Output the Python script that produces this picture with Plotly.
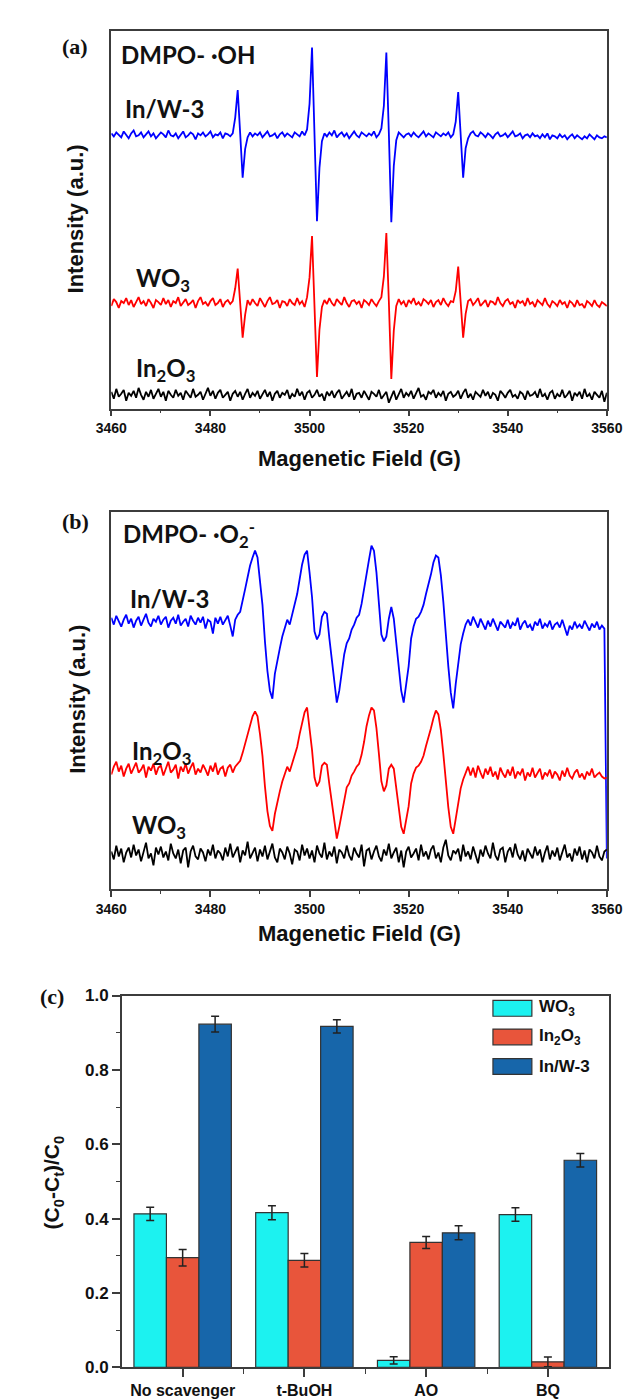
import numpy as np
import plotly.graph_objects as go

W, H = 631, 1399

# ---------------- data ----------------
FIELD_START, FIELD_STOP, FIELD_STEP = 3460.0, 3560.0, 0.5
field = np.arange(FIELD_START, FIELD_STOP + FIELD_STEP / 2, FIELD_STEP)

# (a) DMPO-·OH spectra (intensity deviations, a.u.), sampled every 0.5 G
oh_inw3 = [2, -1, 3, 0, -2, 4, 1, -3, 2, 5,
           -1, 0, 3, -2, 1, 4, -1, 2, -3, 0,
           3, 1, -2, 5, 0, -1, 2, -3, 1, 4,
           -2, 0, 3, 1, -4, 2, 0, 3, -1, 1,
           4, -2, 1, 0, 3, -3, 2, 1, -1, 2,
           18, 46, 2, -43, -14, -2, 3, -1, 2, 0,
           3, -2, 1, 4, -1, 0, 2, -3, 1, 3,
           -1, 2, 0, -2, 3, 1, -1, 4, 0, 6,
           32, 89, 4, -87, -33, -6, 2, -1, 3, 0,
           5, -2, 1, 3, -1, 2, -3, 1, 4, 0,
           -2, 3, 1, -1, 2, 0, 4, -2, 1, 7,
           30, 84, 3, -88, -31, -5, 3, 0, -2, 1,
           2, -1, 3, 0, -2, 1, 4, -1, 2, 0,
           -2, 3, 1, -1, 2, 0, 3, -2, 1, 14,
           44, 3, -43, -13, -3, 2, 4, 0, -1, 3,
           1, -2, 2, 0, -3, 1, 3, -1, 0, 2,
           -2, 1, 4, -1, 0, 2, -3, 0, 1, -2,
           2, -1, 0, -3, 1, -2, 2, -4, 0, -1,
           -3, 1, -2, 0, -4, -1, 1, -3, 0, -2,
           -4, -1, -3, 1, -2, -4, 0, -2, -3, -1,
           -2]
oh_wo3 = [-3, 4, 1, -5, 2, 0, 5, -2, 3, -4,
          1, 6, -1, 2, -3, 4, 0, -5, 3, 1,
          -2, 5, -1, 3, -4, 2, 0, 6, -3, 1,
          4, -2, 0, 3, -5, 2, 6, -1, 1, -3,
          2, 5, -2, 0, 4, -4, 1, 3, -1, 2,
          15, 35, 1, -35, -12, 3, -2, 4, 0, -3,
          5, 1, -4, 2, 6, -1, 0, 3, -5, 2,
          1, -3, 4, 0, -2, 5, -1, 2, -4, 6,
          26, 68, 2, -75, -27, -4, 3, -1, 5, 0,
          -3, 4, 1, -2, 6, 0, -4, 2, 3, -1,
          2, -5, 3, 1, -2, 4, 0, -3, 2, 6,
          27, 71, 2, -77, -28, -3, 4, -1, 2, -4,
          3, 0, 5, -2, 1, -3, 4, 2, -1, 3,
          -4, 1, 3, -2, 5, 0, -3, 2, 1, 12,
          37, 2, -35, -11, 2, 4, -2, 1, 5, -3,
          0, 3, -4, 2, 1, -2, 6, 0, -3, 2,
          4, -1, 1, -5, 3, 0, 2, -3, 5, -1,
          1, -4, 3, 0, -2, 5, -1, -4, 2, 0,
          -3, 3, -1, 1, -5, 2, 0, -4, 3, -2,
          -1, -5, 2, 0, -3, 3, -2, -4, 1, -1,
          -3]
oh_in2o3 = [3, -4, 6, -2, 1, 5, -6, 2, -1, 4,
            -3, 7, 0, -5, 3, -2, 5, -4, 1, 6,
            -2, 3, -6, 4, 0, -3, 5, -1, 2, -5,
            4, 1, -3, 6, -2, 0, 3, -5, 2, 7,
            -1, 4, -4, 2, 5, -3, 0, 3, -6, 1,
            4, -2, 3, -5, 1, 6, -3, 2, -1, 4,
            -4, 0, 5, -2, 3, -6, 1, 4, -3, 2,
            0, 5, -4, 1, -2, 6, -1, 3, -5, 2,
            4, -3, 0, 5, -2, 1, -6, 3, -1, 4,
            -3, 2, 5, -4, 0, 3, -2, 6, -5, 1,
            2, -3, 4, 0, -5, 3, 1, -2, 5, -4,
            0, 3, -8, -2, 4, -5, 1, 6, -3, 2,
            -1, 4, -4, 2, 7, -2, 0, -5, 3, 1,
            5, -3, 2, -1, 4, -6, 1, 3, -2, 0,
            4, -4, 2, 6, -3, 1, -5, 3, 0, -2,
            5, -1, 3, -4, 2, 0, -6, 4, 1, -3,
            2, 5, -2, 0, -4, 3, 1, -5, 4, -1,
            0, 3, -3, 6, -2, 1, -5, 2, 4, -4,
            1, -2, 5, -3, 0, 4, -6, 2, -1, 3,
            -4, 6, -2, 1, -5, 3, 0, -3, 4, -7,
            2]

# (b) DMPO-·O2- spectra
o2_inw3 = [4, -3, 6, 0, -5, 2, 7, -2, 3, -6,
           1, 5, -4, 2, 8, -1, -5, 3, 0, 6,
           -3, 2, 5, -6, 1, 4, -2, 7, -4, 0,
           3, -5, 6, 1, -3, 4, -1, 5, -7, 2,
           0, -12, 4, -2, 5, -3, 1, 6, -4, -15,
           2, 7, 10, 20, 33, 45, 57, 65, 72, 65,
           43, 17, -20, -50, -70, -78, -53, -38, -27, -15,
           -5, 2, -3, 8, 17, 28, 43, 58, 68, 72,
           50, 25, -10, -18, -13, 5, 10, 8, -17, -40,
           -57, -82, -70, -52, -33, -22, -17, -8, -3, 4,
           7, 18, 33, 52, 63, 77, 72, 50, 20, -13,
           -20, -15, 3, 15, 3, -20, -50, -70, -82, -63,
           -45, -17, -5, 3, 5, 10, 17, 28, 37, 48,
           60, 67, 65, 47, 20, -17, -45, -72, -88, -63,
           -45, -23, -12, -3, 2, -4, 5, -1, -6, 3,
           -2, -8, 1, -5, 3, -4, -9, 0, -3, -6,
           2, -7, -1, -4, 4, -8, -2, 1, -6, -3,
           -9, 0, -4, 3, -7, -2, -5, 1, -8, -3,
           -1, -6, 2, -5, -14, -4, -8, 0, -6, -3,
           -7, 1, -5, -9, -2, -6, 0, -8, -4, -7,
           -240]
o2_in2o3 = [-5, 3, 8, -2, 4, -7, 1, 6, -4, 2,
            7, -3, 0, 5, -8, 3, -1, 6, -5, 2,
            4, -6, 1, 8, -3, 0, 5, -9, 3, -2,
            6, -4, 2, 7, -5, 1, -3, 5, 0, -6,
            4, -2, 7, -5, 1, 3, -7, 2, 5, -3,
            3, 6, 9, 17, 27, 37, 47, 54, 59, 54,
            36, 14, -17, -42, -57, -62, -45, -32, -22, -12,
            -4, 3, -2, 7, 14, 23, 36, 49, 58, 63,
            44, 20, -8, -17, -12, 4, 7, 5, -15, -34,
            -48, -70, -58, -44, -28, -18, -14, -6, -2, 3,
            6, 15, 28, 44, 55, 63, 60, 42, 16, -12,
            -22, -16, 1, 5, 1, -18, -42, -58, -65, -52,
            -37, -14, -4, 2, 4, 8, 14, 24, 32, 42,
            52, 60, 56, 40, 16, -15, -38, -58, -65, -50,
            -36, -19, -10, -4, 3, -6, 2, -8, 4, -3,
            -9, 1, -5, 3, -7, -2, -10, 2, -4, -8,
            0, -6, 3, -9, -2, -5, 1, -11, -3, -7,
            2, -8, -4, 1, -10, -3, -6, 0, -9, -2,
            -5, -11, -1, -7, 2, -6, -9, -3, 0, -8,
            -4, -10, -2, -6, 1, -8, -5, -3, -7, -9,
            -8]
o2_wo3 = [2, -6, 8, -3, 5, -9, 1, 6, -4, 9,
          -2, 4, -8, 3, 11, -5, 0, -12, 6, -1,
          7, -4, 2, -7, 10, 0, -5, 4, -10, 3,
          6, -14, 2, 8, -3, -6, 5, 1, -8, 4,
          -2, 9, -5, 3, 0, -7, 6, -3, 10, -4,
          1, 7, -9, 3, -2, 12, -5, 0, 6, -8,
          4, -3, 8, -6, 2, 10, -4, -9, 5, 1,
          -6, 7, 0, -11, 4, 2, -7, 9, -2, 5,
          -5, 3, -9, 8, 0, -4, 11, -6, 2, -3,
          7, -10, 4, 1, -5, 8, -2, -7, 6, 0,
          -4, 9, -13, 3, 5, -6, 2, 8, -3, -8,
          4, -2, 10, -5, 1, 6, -9, 3, -14, 2,
          7, -4, 0, 5, -7, 9, -3, 2, -6, 4,
          8, -5, 1, -9, 6, 14, -2, -7, 3, 0,
          5, -8, 9, -3, 2, -6, 7, -1, -10, 4,
          -3, 8, 0, -5, 11, -2, -7, 4, 6, -9,
          2, 6, -4, 10, -1, -6, 3, -8, 5, 0,
          -5, 7, -2, 4, -9, 1, 8, -6, 3, -3,
          6, -7, 2, 9, -4, 0, -8, 5, -2, 7,
          -6, 3, -9, 4, 1, -5, 8, -3, -7, 2,
          4]

# vertical stacking offsets of the spectra (a.u.)
oh_offsets = [277, 107, 14]
o2_offsets = [271, 121, 36]

# (c) scavenger experiment
categories = ["No scavenger", "t-BuOH", "AO", "BQ"]
series_names = ["WO<sub>3</sub>", "In<sub>2</sub>O<sub>3</sub>", "In/W-3"]
wo3_vals = [0.413, 0.416, 0.019, 0.411]
wo3_err = [0.018, 0.019, 0.010, 0.018]
in2o3_vals = [0.295, 0.288, 0.336, 0.015]
in2o3_err = [0.022, 0.018, 0.016, 0.013]
inw3_vals = [0.923, 0.917, 0.362, 0.557]
inw3_err = [0.021, 0.018, 0.019, 0.018]

# ---------------- style ----------------
SANS = "Liberation Sans, Arial, sans-serif"
LABEL = "Lato, Liberation Sans, sans-serif"
SERIF = "Liberation Serif, Times New Roman, serif"
AXC = "#3c3c3c"
BLUE, RED, BLACK = "#0000FF", "#FF0000", "#000000"
C_WO3, C_IN2O3, C_INW3 = "#1CF2F0", "#E8553B", "#1766AA"
LW = 1.8


def px(x):
    return x / W


def py(y):
    return 1 - y / H


fig = go.Figure()

for vals, off, col in zip([oh_inw3, oh_wo3, oh_in2o3], oh_offsets, [BLUE, RED, BLACK]):
    fig.add_trace(go.Scatter(x=field, y=np.array(vals) + off, mode="lines",
                             line=dict(color=col, width=LW), xaxis="x", yaxis="y",
                             showlegend=False, hoverinfo="skip"))

for vals, off, col in zip([o2_inw3, o2_in2o3, o2_wo3], o2_offsets, [BLUE, RED, BLACK]):
    fig.add_trace(go.Scatter(x=field, y=np.array(vals) + off, mode="lines",
                             line=dict(color=col, width=LW), xaxis="x2", yaxis="y2",
                             showlegend=False, hoverinfo="skip"))

cat_pos = list(range(len(categories)))
bar_colors = [C_WO3, C_IN2O3, C_INW3]
for name, vals, err, col in zip(series_names, [wo3_vals, in2o3_vals, inw3_vals],
                                [wo3_err, in2o3_err, inw3_err], bar_colors):
    fig.add_trace(go.Bar(x=cat_pos, y=vals, name=name, xaxis="x3", yaxis="y3",
                         marker=dict(color=col, line=dict(color="#333333", width=1.2)),
                         error_y=dict(type="data", array=err, color="#222222",
                                      thickness=1.5, width=4),
                         showlegend=False))

common_x = dict(range=[3460, 3560], tick0=3460, dtick=20, ticks="outside", ticklen=6,
                tickwidth=1.5, tickcolor=AXC, showline=True, linecolor=AXC, linewidth=1.5,
                mirror=True, showgrid=False, zeroline=False,
                tickfont=dict(family=SANS, size=14, color="#111", weight="bold"),
                minor=dict(dtick=10, tick0=3460, ticks="outside", ticklen=3,
                           tickcolor=AXC, tickwidth=1.2, showgrid=False))
common_y = dict(showticklabels=False, ticks="", showline=True, linecolor=AXC, linewidth=1.5,
                mirror=True, showgrid=False, zeroline=False)

fig.update_layout(
    width=W, height=H, margin=dict(l=0, r=0, t=0, b=0),
    paper_bgcolor="white", plot_bgcolor="white",
    barmode="group", bargap=0.2, bargroupgap=0,
    xaxis=dict(domain=[px(92), px(614)], anchor="y", **common_x),
    yaxis=dict(domain=[py(397), py(14)], anchor="x", range=[0, 383], **common_y),
    xaxis2=dict(domain=[px(92), px(614)], anchor="y2", **common_x),
    yaxis2=dict(domain=[py(884), py(502)], anchor="x2", range=[0, 382], **common_y),
    xaxis3=dict(domain=[px(103), px(616)], anchor="y3", range=[-0.5, 3.5],
                tickmode="array", tickvals=cat_pos, ticktext=categories,
                ticks="outside", ticklen=8, tickwidth=1.5, tickcolor=AXC,
                showline=True, linecolor=AXC, linewidth=1.5, mirror=True,
                showgrid=False, zeroline=False,
                tickfont=dict(family=SANS, size=16, color="#111", weight="bold"),
                minor=dict(tickmode="array", tickvals=[0.5, 1.5, 2.5], ticks="outside",
                           ticklen=5, tickcolor=AXC, tickwidth=1.2, showgrid=False)),
    yaxis3=dict(domain=[py(1369), py(992)], anchor="x3", range=[0, 1.0],
                tick0=0, dtick=0.2, tickformat=".1f",
                ticks="outside", ticklen=8, tickwidth=1.5, tickcolor=AXC,
                showline=True, linecolor=AXC, linewidth=1.5, mirror=True,
                showgrid=False, zeroline=False,
                tickfont=dict(family=SANS, size=17, color="#111", weight="bold"),
                minor=dict(dtick=0.1, ticks="outside", ticklen=4, tickcolor=AXC,
                           tickwidth=1.2, showgrid=False)),
)


def ann(text, x, y, size, family=SANS, xanchor="left", angle=0, color="#111"):
    return dict(text=text, x=px(x), y=py(y), xref="paper", yref="paper",
                xanchor=xanchor, yanchor="middle", showarrow=False, textangle=angle,
                font=dict(family=family, size=size, color=color, weight="bold"))


annotations = [
    ann("(a)", 54, 30, 22, SERIF, "center"),
    ann("DMPO- ·OH", 100, 38, 24, LABEL),
    ann("In/W-3", 104, 93, 24, LABEL),
    ann("WO<sub>3</sub>", 116, 266, 24, LABEL),
    ann("In<sub>2</sub>O<sub>3</sub>", 116, 357, 24, LABEL),
    ann("Intensity (a.u.)", 54, 205, 22, SANS, "center", -90),
    ann("Magenetic Field (G)", 353, 448, 22, SANS, "center"),
    ann("(b)", 54, 511, 22, SERIF, "center"),
    ann("DMPO- ·O<sub>2</sub><sup>-</sup>", 102, 524, 24, LABEL),
    ann("In/W-3", 110, 589, 24, LABEL),
    ann("In<sub>2</sub>O<sub>3</sub>", 112, 746, 24, LABEL),
    ann("WO<sub>3</sub>", 112, 821, 24, LABEL),
    ann("Intensity (a.u.)", 56, 692, 22, SANS, "center", -90),
    ann("Magenetic Field (G)", 353, 929, 22, SANS, "center"),
    ann("(c)", 30, 993, 22, SERIF, "center"),
    ann("(C<sub>0</sub>-C<sub>t</sub>)/C<sub>0</sub>", 31, 1181, 21, SANS, "center", -90),
]

# legend of panel (c)
shapes = []
for name, col, yc in zip(series_names, bar_colors, [1005, 1034, 1064]):
    shapes.append(dict(type="rect", xref="paper", yref="paper", x0=px(494), x1=px(535),
                       y0=py(yc + 8), y1=py(yc - 8), fillcolor=col,
                       line=dict(color="#333333", width=1.2)))
    annotations.append(ann(name, 540, yc, 17, SANS))

fig.update_layout(annotations=annotations, shapes=shapes)

fig.write_html("out.html")
